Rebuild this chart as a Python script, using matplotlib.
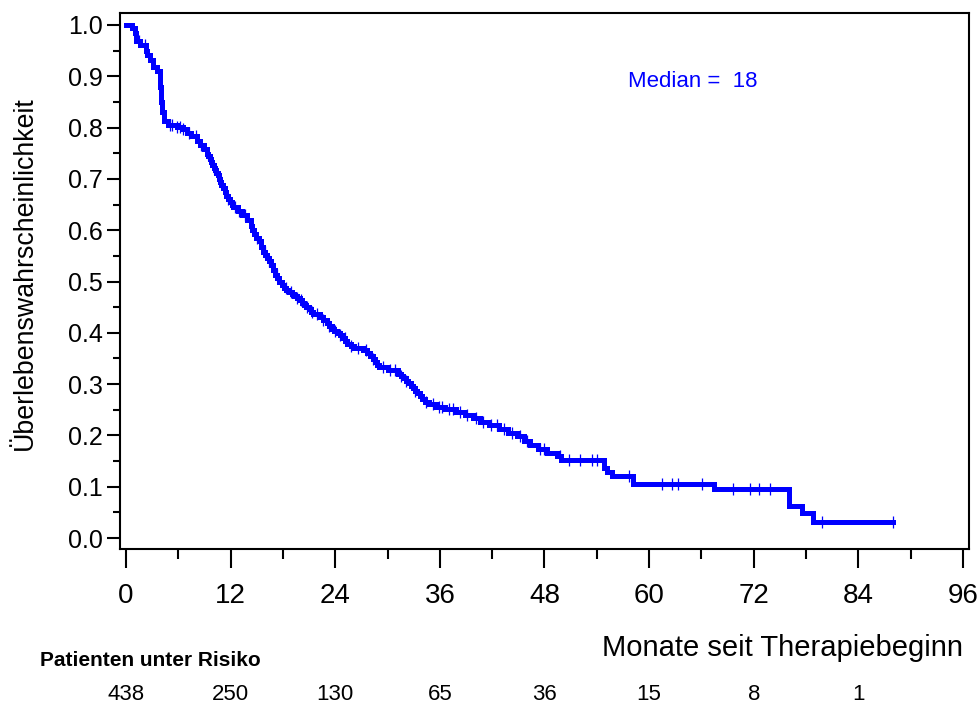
import numpy as np
import matplotlib
matplotlib.use("Agg")
import matplotlib.pyplot as plt
from matplotlib.ticker import MultipleLocator, FormatStrFormatter

plt.rcParams['font.family'] = ['Liberation Sans', 'DejaVu Sans']

# Kaplan-Meier step function: time of each step (months) and survival after it
step_times = [0.0, 0.65, 1.0, 1.1, 1.6, 2.3, 2.4, 2.75, 3.1, 3.5, 3.9, 4.05, 4.15, 4.3,
              4.8, 5.8, 6.5, 7.0, 7.5, 8.1, 8.5, 8.9, 9.3, 9.45, 9.6, 9.75, 9.9, 10.05,
              10.2, 10.35, 10.5, 10.65, 10.8, 10.95, 11.1, 11.3, 11.5, 11.7, 11.9, 12.1,
              12.3, 12.8, 13.3, 13.9, 14.3, 14.5, 14.7, 14.95, 15.2, 15.45, 15.7, 15.95,
              16.2, 16.4, 16.6, 16.85, 17.1, 17.35, 17.6, 17.85, 18.1, 18.4, 18.7, 19.0,
              19.3, 19.6, 19.9, 20.15, 20.4, 20.7, 21.0, 21.25, 21.5, 22.2, 22.6, 23.0,
              23.3, 23.6, 23.9, 24.2, 24.55, 24.9, 25.15, 25.4, 25.8, 26.2, 27.2, 27.6,
              28.0, 28.3, 28.6, 28.8, 29.0, 30.0, 31.2, 31.5, 31.8, 32.1, 32.4, 32.65,
              32.9, 33.15, 33.4, 33.7, 34.0, 34.35, 34.7, 35.5, 36.6, 37.8, 38.9, 39.8,
              40.6, 41.6, 42.8, 43.8, 44.8, 45.6, 46.3, 47.2, 48.3, 49.4, 49.9, 54.8,
              55.2, 55.8, 58.2, 67.4, 76.0, 77.5, 78.8, 88.0]
survival = [1.000, 0.995, 0.984, 0.968, 0.961, 0.950, 0.942, 0.932, 0.918, 0.910, 0.879,
            0.850, 0.830, 0.812, 0.806, 0.802, 0.797, 0.790, 0.783, 0.774, 0.767, 0.759,
            0.749, 0.744, 0.738, 0.733, 0.728, 0.722, 0.717, 0.712, 0.707, 0.700, 0.694,
            0.688, 0.682, 0.675, 0.667, 0.661, 0.655, 0.650, 0.645, 0.638, 0.630, 0.619,
            0.608, 0.600, 0.592, 0.585, 0.578, 0.568, 0.558, 0.552, 0.545, 0.539, 0.533,
            0.523, 0.513, 0.506, 0.500, 0.494, 0.488, 0.484, 0.480, 0.476, 0.472, 0.467,
            0.463, 0.459, 0.455, 0.450, 0.446, 0.441, 0.437, 0.431, 0.425, 0.420, 0.414,
            0.408, 0.404, 0.400, 0.395, 0.390, 0.384, 0.379, 0.375, 0.371, 0.366, 0.360,
            0.355, 0.349, 0.343, 0.338, 0.333, 0.327, 0.320, 0.316, 0.311, 0.306, 0.302,
            0.297, 0.292, 0.287, 0.282, 0.276, 0.271, 0.266, 0.262, 0.256, 0.251, 0.246,
            0.240, 0.234, 0.227, 0.220, 0.212, 0.205, 0.198, 0.189, 0.181, 0.174, 0.165,
            0.159, 0.153, 0.136, 0.128, 0.120, 0.105, 0.095, 0.062, 0.049, 0.031, 0.031]

# Censored observations (months)
censor_times = [1.5, 2.2, 5.0, 5.3, 5.8, 6.2, 6.5, 7.2, 8.0, 8.6, 9.4, 10.1, 10.9, 11.7,
                12.5, 13.0, 13.6, 14.4, 15.0, 15.9, 16.4, 17.3, 18.3, 18.9, 19.6, 20.1,
                20.8, 21.3, 21.9, 22.6, 23.3, 24.0, 24.6, 25.1, 25.8, 26.6, 27.5, 28.3,
                29.5, 30.3, 30.9, 31.5, 32.1, 33.2, 34.4, 35.2, 35.9, 36.3, 37.0, 37.5,
                38.3, 39.1, 40.2, 41.0, 41.9, 42.5, 43.3, 44.3, 45.2, 46.0, 47.5, 48.0,
                49.8, 50.8, 52.1, 53.4, 54.0, 57.7, 61.5, 62.6, 63.3, 66.1, 69.6, 71.6,
                72.6, 73.9, 79.8, 88.0]

risk_times = [0, 12, 24, 36, 48, 60, 72, 84]
at_risk = [438, 250, 130, 65, 36, 15, 8, 1]
median_months = 18

fig = plt.figure(figsize=(9.79, 7.06), dpi=100)
ax = fig.add_axes([0.1226, 0.2224, 0.8672, 0.7592])

blue = '#0000FF'
ax.step(step_times, survival, where='post', color=blue, lw=3.6, solid_joinstyle='miter')

idx = np.searchsorted(step_times, censor_times, side='right') - 1
censor_surv = np.asarray(survival)[idx]
ax.plot(censor_times, censor_surv, ls='none', marker='|', ms=8.5, mew=0.9, color=blue)

ax.set_xlim(-0.69, 96.7)
ax.set_ylim(-0.0214, 1.0234)

ax.xaxis.set_major_locator(MultipleLocator(12))
ax.xaxis.set_minor_locator(MultipleLocator(6))
ax.yaxis.set_major_locator(MultipleLocator(0.1))
ax.yaxis.set_minor_locator(MultipleLocator(0.05))
ax.yaxis.set_major_formatter(FormatStrFormatter('%.1f'))

for s in ax.spines.values():
    s.set_linewidth(1.5)
ax.tick_params(axis='x', which='major', length=13.5, width=1.5, labelsize=20, pad=11)
ax.tick_params(axis='x', which='minor', length=7.5, width=1.5)
ax.tick_params(axis='y', which='major', length=9.5, width=1.5, labelsize=18, pad=3)
ax.tick_params(axis='y', which='minor', length=5, width=1.5)

ax.set_ylabel('Überlebenswahrscheinlichkeit', fontsize=19.3)
ax.yaxis.set_label_coords(-0.097, 0.515)

ax.text(0.598, 0.873, f'Median =  {median_months}', transform=ax.transAxes,
        color=blue, fontsize=16, ha='left', va='center')

# x-axis title placed right-aligned under the axis
fig.text(963 / 979, 1 - 648 / 706, 'Monate seit Therapiebeginn', fontsize=21,
         ha='right', va='center')

fig.text(40 / 979, 1 - 660 / 706, 'Patienten unter Risiko', fontsize=15,
         fontweight='bold', ha='left', va='center')

trans = matplotlib.transforms.blended_transform_factory(ax.transData, fig.transFigure)
for t, n in zip(risk_times, at_risk):
    ax.text(t, 1 - 694 / 706, str(n), transform=trans, fontsize=16,
            ha='center', va='center', clip_on=False)

fig.savefig('out.png', dpi=100)
